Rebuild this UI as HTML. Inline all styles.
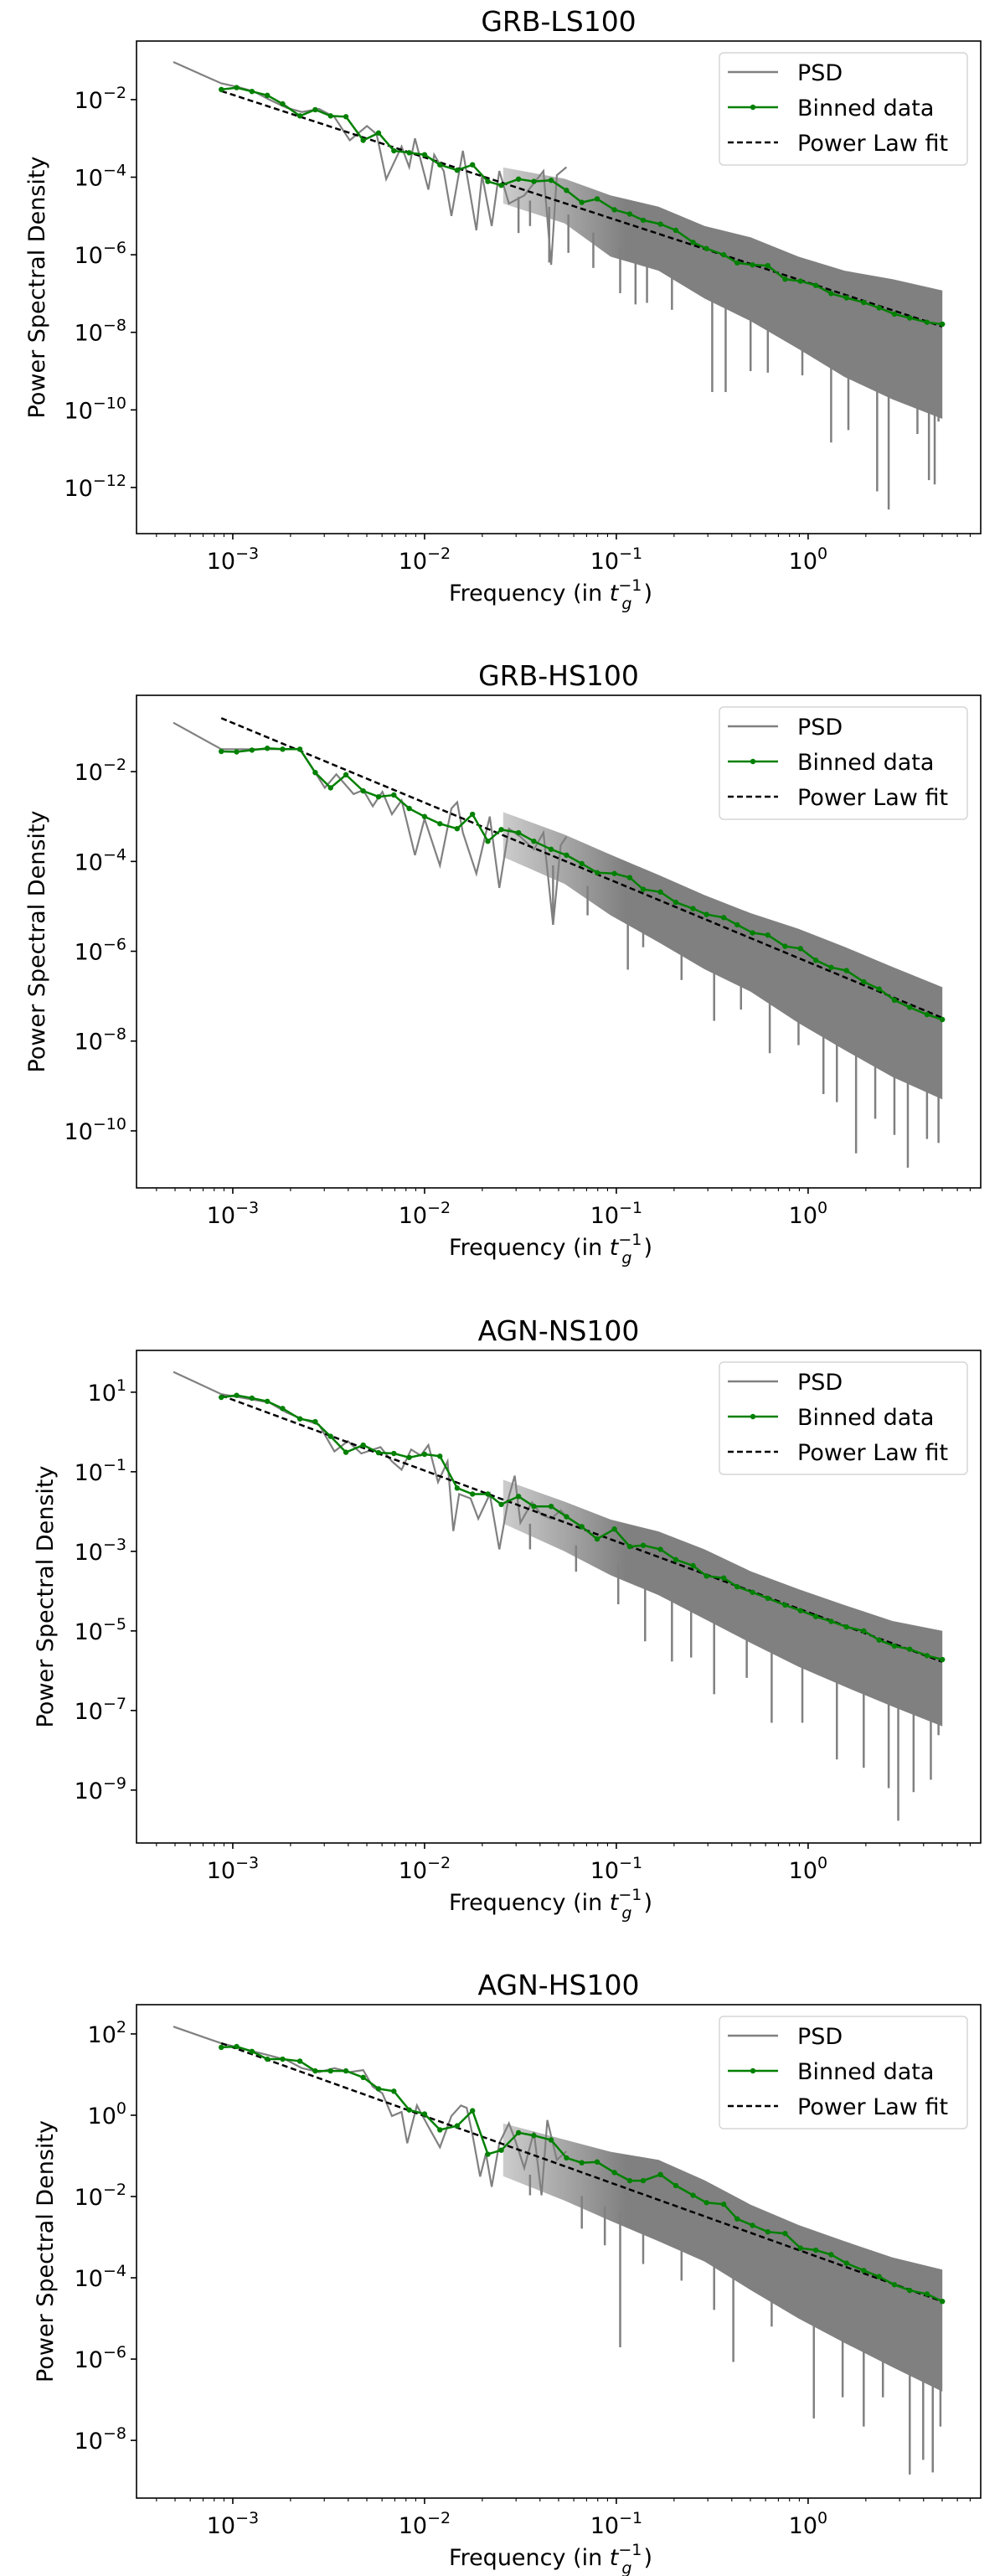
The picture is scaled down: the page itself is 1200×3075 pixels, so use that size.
<!DOCTYPE html>
<html><head><meta charset="utf-8"><title>PSD panels</title>
<style>html,body{margin:0;padding:0;background:#fff}svg{display:block}text{font-family:"DejaVu Sans","Liberation Sans",sans-serif;fill:#000}</style>
</head><body>
<svg id="fig" xmlns="http://www.w3.org/2000/svg" width="1200" height="3075" viewBox="0 0 1200 3075"></svg>
<script>
// ---------- data (log10 units) ----------
const titles = ["GRB-LS100","GRB-HS100","AGN-NS100","AGN-HS100"];
const binLogF = [-3.06,-2.98,-2.90,-2.82,-2.74,-2.65,-2.57,-2.49,-2.41,-2.32,-2.24,-2.16,-2.08,-2.00,-1.92,-1.83,-1.75,-1.67,-1.60,-1.51,-1.43,-1.34,-1.26,-1.18,-1.10,-1.01,-0.93,-0.86,-0.77,-0.69,-0.60,-0.53,-0.44,-0.37,-0.29,-0.21,-0.12,-0.04,0.04,0.12,0.20,0.29,0.37,0.45,0.53,0.62,0.70];
const bandLogF = [-1.59,-1.27,-1.03,-0.78,-0.54,-0.30,-0.05,0.19,0.44,0.70];

const p1Bin = [-1.74,-1.69,-1.79,-1.89,-2.11,-2.42,-2.26,-2.42,-2.44,-3.05,-2.86,-3.32,-3.37,-3.42,-3.68,-3.82,-3.68,-4.11,-4.21,-4.05,-4.11,-4.08,-4.34,-4.65,-4.56,-4.84,-4.95,-5.11,-5.21,-5.37,-5.68,-5.84,-6.00,-6.21,-6.26,-6.28,-6.63,-6.68,-6.79,-7.00,-7.11,-7.23,-7.37,-7.53,-7.63,-7.74,-7.79];
const p2Bin = [-1.55,-1.56,-1.52,-1.48,-1.50,-1.50,-2.02,-2.36,-2.07,-2.43,-2.56,-2.52,-2.82,-3.00,-3.16,-3.27,-2.95,-3.55,-3.29,-3.36,-3.55,-3.73,-3.86,-4.05,-4.25,-4.27,-4.36,-4.62,-4.68,-4.91,-5.05,-5.18,-5.25,-5.41,-5.59,-5.64,-5.89,-5.94,-6.20,-6.36,-6.43,-6.68,-6.84,-7.09,-7.25,-7.41,-7.52];
const p3Bin = [0.87,0.92,0.85,0.77,0.59,0.33,0.26,-0.11,-0.51,-0.33,-0.52,-0.54,-0.64,-0.56,-0.61,-1.41,-1.56,-1.56,-1.82,-1.62,-1.87,-1.87,-2.13,-2.38,-2.69,-2.44,-2.88,-2.85,-2.95,-3.21,-3.36,-3.62,-3.67,-3.89,-4.03,-4.18,-4.35,-4.49,-4.64,-4.76,-4.90,-5.00,-5.23,-5.38,-5.46,-5.62,-5.72];
const p4Bin = [1.67,1.69,1.57,1.38,1.38,1.33,1.09,1.09,1.09,0.93,0.65,0.59,0.13,0.03,-0.36,-0.26,0.11,-0.96,-0.86,-0.43,-0.50,-0.61,-1.05,-1.17,-1.15,-1.41,-1.61,-1.61,-1.46,-1.73,-1.97,-2.15,-2.19,-2.55,-2.71,-2.87,-2.91,-3.27,-3.32,-3.43,-3.64,-3.82,-3.97,-4.17,-4.31,-4.40,-4.58];

// power-law fit: log P = fitA + fitB * log f
const fitA = [-6.72,-6.24,-4.53,-3.40];
const fitB = [-1.615,-1.775,-1.78,-1.69];

const p1GrayF = [-3.31,-3.06,-2.97,-2.89,-2.81,-2.72,-2.64,-2.55,-2.47,-2.39,-2.30,-2.25,-2.20,-2.12,-2.08,-2.05,-1.98,-1.95,-1.90,-1.86,-1.80,-1.73,-1.70,-1.65,-1.61,-1.56,-1.48,-1.38,-1.34,-1.31,-1.26];
const p1GrayV = [-1.03,-1.58,-1.68,-1.79,-2.00,-2.21,-2.32,-2.24,-2.45,-3.05,-2.68,-2.89,-4.05,-3.21,-3.74,-3.00,-4.32,-3.42,-3.84,-5.00,-3.32,-5.37,-3.95,-5.26,-3.84,-4.68,-4.47,-3.84,-6.26,-3.95,-3.74];
const p2GrayF = [-3.31,-3.06,-2.74,-2.65,-2.60,-2.52,-2.46,-2.37,-2.32,-2.27,-2.22,-2.17,-2.12,-2.05,-2.00,-1.92,-1.86,-1.83,-1.80,-1.73,-1.66,-1.61,-1.56,-1.50,-1.43,-1.38,-1.33,-1.29,-1.26];
const p2GrayV = [-0.91,-1.50,-1.50,-1.50,-1.82,-2.36,-2.06,-2.50,-2.41,-2.77,-2.45,-2.95,-2.64,-3.86,-3.05,-4.09,-2.82,-2.68,-3.36,-4.27,-3.00,-4.59,-3.27,-3.45,-3.73,-3.36,-5.41,-3.64,-3.45];
const p3GrayF = [-3.31,-3.06,-2.81,-2.72,-2.64,-2.55,-2.47,-2.40,-2.33,-2.23,-2.17,-2.12,-2.07,-2.02,-1.98,-1.93,-1.88,-1.85,-1.82,-1.76,-1.72,-1.66,-1.61,-1.56,-1.53,-1.50,-1.44,-1.39,-1.34,-1.29,-1.26];
const p3GrayV = [1.51,0.95,0.74,0.49,0.33,0.18,-0.49,-0.23,-0.54,-0.38,-0.74,-0.95,-0.44,-0.59,-0.33,-1.26,-0.74,-2.49,-1.56,-1.67,-2.18,-1.56,-2.95,-1.62,-1.10,-2.28,-1.77,-2.08,-2.18,-1.97,-2.13];
const p4GrayF = [-3.31,-3.06,-2.81,-2.72,-2.64,-2.55,-2.47,-2.39,-2.32,-2.27,-2.22,-2.17,-2.12,-2.09,-2.04,-1.98,-1.92,-1.86,-1.81,-1.78,-1.75,-1.71,-1.68,-1.65,-1.61,-1.56,-1.53,-1.48,-1.43,-1.39,-1.36,-1.31,-1.26];
const p4GrayV = [2.18,1.77,1.47,1.36,1.16,1.06,1.16,1.06,1.11,0.70,0.54,-0.02,0.08,-0.69,0.24,-0.28,-0.79,-0.02,0.24,0.18,-0.48,-1.51,-0.94,-1.76,-0.69,-0.20,-0.58,-1.30,-0.41,-1.97,-0.12,-1.10,-0.89];

const p1BandHi = [-3.75,-4.04,-4.47,-4.76,-5.26,-5.55,-6.05,-6.41,-6.63,-6.92];
const p1BandLo = [-4.68,-5.19,-6.05,-6.41,-7.13,-7.71,-8.43,-9.15,-9.73,-10.23];
const p2BandHi = [-2.90,-3.40,-3.85,-4.30,-4.75,-5.15,-5.50,-5.90,-6.35,-6.80];
const p2BandLo = [-3.90,-4.50,-5.20,-5.80,-6.40,-6.90,-7.60,-8.20,-8.80,-9.30];
const p3BandHi = [-1.20,-1.75,-2.20,-2.50,-2.95,-3.50,-3.95,-4.35,-4.75,-5.00];
const p3BandLo = [-2.30,-3.00,-3.60,-4.10,-4.70,-5.30,-5.90,-6.40,-6.90,-7.40];
const p4BandHi = [-0.20,-0.60,-0.90,-1.10,-1.60,-2.20,-2.70,-3.10,-3.50,-3.80];
const p4BandLo = [-1.50,-2.10,-2.60,-3.10,-3.60,-4.30,-5.00,-5.60,-6.20,-6.80];

const p1SpikeF = [-1.51,-1.45,-1.35,-1.25,-1.12,-0.98,-0.90,-0.84,-0.71,-0.62,-0.50,-0.43,-0.30,-0.21,-0.03,0.12,0.21,0.36,0.42,0.57,0.63,0.66,0.68];
const p1SpikeV = [-5.44,-5.26,-6.20,-5.95,-6.34,-6.99,-7.28,-7.24,-7.42,-6.70,-9.54,-9.54,-9.00,-9.04,-9.11,-10.84,-10.52,-12.10,-12.57,-10.62,-11.81,-11.92,-10.30];
const p2SpikeF = [-1.33,-1.15,-0.94,-0.86,-0.66,-0.49,-0.35,-0.20,-0.05,0.08,0.15,0.25,0.35,0.45,0.52,0.62,0.68];
const p2SpikeV = [-5.41,-5.20,-6.41,-5.91,-6.64,-7.55,-7.30,-8.27,-8.09,-9.18,-9.36,-10.50,-9.73,-10.09,-10.82,-10.18,-10.27];
const p3SpikeF = [-1.45,-1.21,-0.99,-0.85,-0.71,-0.61,-0.49,-0.32,-0.19,-0.03,0.15,0.29,0.42,0.47,0.55,0.64,0.68];
const p3SpikeV = [-2.95,-3.51,-4.33,-5.26,-5.77,-5.67,-6.59,-6.18,-7.31,-7.31,-8.23,-8.44,-8.95,-9.77,-9.05,-8.74,-7.62];
const p4SpikeF = [-1.45,-1.18,-1.06,-0.98,-0.86,-0.66,-0.49,-0.39,-0.19,0.03,0.18,0.29,0.39,0.53,0.60,0.65,0.69];
const p4SpikeV = [-1.97,-2.79,-3.20,-5.71,-3.66,-4.07,-4.79,-6.07,-5.20,-7.46,-6.94,-7.66,-6.94,-8.84,-8.48,-8.79,-7.66];

const yTickExp = [[-2,-4,-6,-8,-10,-12],[-2,-4,-6,-8,-10],[1,-1,-3,-5,-7,-9],[2,0,-2,-4,-6,-8]];
const xTickExp = [-3,-2,-1,0];

// ---------- layout ----------
const NS = "http://www.w3.org/2000/svg";
const svg = document.getElementById("fig");
const L = 163, R = 1171, XMIN = -3.502, XMAX = 0.900;
const panelTop = [49, 830, 1612, 2393];
const panelBot = [637, 1418, 2200, 2982];
const yLogTop = [-0.49, -0.30, 2.05, 2.72];
const yLogBot = [-13.19, -11.27, -10.33, -9.42];
const yLabelX = [44, 44, 54, 54];

const bins = [p1Bin, p2Bin, p3Bin, p4Bin];
const grayF = [p1GrayF, p2GrayF, p3GrayF, p4GrayF];
const grayV = [p1GrayV, p2GrayV, p3GrayV, p4GrayV];
const bandHi = [p1BandHi, p2BandHi, p3BandHi, p4BandHi];
const bandLo = [p1BandLo, p2BandLo, p3BandLo, p4BandLo];
const spikeF = [p1SpikeF, p2SpikeF, p3SpikeF, p4SpikeF];
const spikeV = [p1SpikeV, p2SpikeV, p3SpikeV, p4SpikeV];

function el(tag, parent) { const e = document.createElementNS(NS, tag); parent.appendChild(e); return e; }
function xs(lf) { return L + (lf - XMIN) / (XMAX - XMIN) * (R - L); }
function interp(xa, ya, x) {
  if (x <= xa[0]) return ya[0];
  for (let i = 0; i < xa.length - 1; i++) {
    if (x <= xa[i + 1]) { const t = (x - xa[i]) / (xa[i + 1] - xa[i]); return ya[i] + t * (ya[i + 1] - ya[i]); }
  }
  return ya[ya.length - 1];
}
function supText(parent, x, y, exp, anchor) {
  const t = el("text", parent);
  t.setAttribute("x", x); t.setAttribute("y", y);
  t.setAttribute("font-size", "27"); t.setAttribute("text-anchor", anchor);
  const a = el("tspan", t); a.textContent = "10";
  const b = el("tspan", t); b.setAttribute("dy", "-12"); b.setAttribute("font-size", "19");
  b.textContent = (exp < 0 ? "\u2212" + (-exp) : String(exp));
  return t;
}

// shared gradient: the dense region fades in as the PSD gets denser
const defs = el("defs", svg);
const grad = el("linearGradient", defs);
grad.setAttribute("id", "bandGrad");
grad.setAttribute("gradientUnits", "userSpaceOnUse");
grad.setAttribute("x1", xs(bandLogF[0])); grad.setAttribute("x2", xs(-0.95));
grad.setAttribute("y1", 0); grad.setAttribute("y2", 0);
[[0, 0.4], [1, 1]].forEach(([o, a]) => {
  const s = el("stop", grad);
  s.setAttribute("offset", o); s.setAttribute("stop-color", "#808080"); s.setAttribute("stop-opacity", a);
});

for (let p = 0; p < 4; p++) {
  const T = panelTop[p], B = panelBot[p];
  const ys = v => T + (yLogTop[p] - v) / (yLogTop[p] - yLogBot[p]) * (B - T);
  const g = el("g", svg);
  
  

  const clipId = "clip" + p;
  const cp = el("clipPath", g); cp.setAttribute("id", clipId);
  const cr = el("rect", cp); cr.setAttribute("x", L); cr.setAttribute("y", T); cr.setAttribute("width", R - L); cr.setAttribute("height", B - T);

  const title = el("text", g);
  
  
  title.setAttribute("x", 667); title.setAttribute("y", T - 12);
  title.setAttribute("font-size", "33"); title.setAttribute("text-anchor", "middle");
  title.textContent = titles[p];

  const plot = el("g", g); plot.setAttribute("clip-path", "url(#" + clipId + ")");

  const psd = el("g", plot);
  
  
  const gl = el("polyline", psd);
  gl.setAttribute("points", grayF[p].map((f, i) => xs(f).toFixed(1) + "," + ys(grayV[p][i]).toFixed(1)).join(" "));
  gl.setAttribute("fill", "none"); gl.setAttribute("stroke", "#808080"); gl.setAttribute("stroke-width", "2.2");

  const band = el("polygon", psd);
  
  
  const up = bandLogF.map((f, i) => xs(f).toFixed(1) + "," + ys(bandHi[p][i]).toFixed(1));
  const lo = bandLogF.map((f, i) => xs(f).toFixed(1) + "," + ys(bandLo[p][i]).toFixed(1)).reverse();
  band.setAttribute("points", up.concat(lo).join(" "));
  band.setAttribute("fill", "url(#bandGrad)"); band.setAttribute("stroke", "none");

  spikeF[p].forEach((f, i) => {
    const s = el("line", psd);
    
    
    const top = interp(bandLogF, bandLo[p], f) + 0.3;
    s.setAttribute("x1", xs(f)); s.setAttribute("x2", xs(f));
    s.setAttribute("y1", ys(top)); s.setAttribute("y2", ys(spikeV[p][i]));
    s.setAttribute("stroke", "#808080"); s.setAttribute("stroke-width", "2.5");
  });

  const f0 = binLogF[0], f1 = binLogF[binLogF.length - 1];
  const fit = el("line", plot);
  
  
  fit.setAttribute("x1", xs(f0)); fit.setAttribute("y1", ys(fitA[p] + fitB[p] * f0));
  fit.setAttribute("x2", xs(f1)); fit.setAttribute("y2", ys(fitA[p] + fitB[p] * f1));
  fit.setAttribute("stroke", "#000"); fit.setAttribute("stroke-width", "2.5"); fit.setAttribute("stroke-dasharray", "7,4");

  const bg = el("g", plot);
  
  
  const bl = el("polyline", bg);
  bl.setAttribute("points", binLogF.map((f, i) => xs(f).toFixed(1) + "," + ys(bins[p][i]).toFixed(1)).join(" "));
  bl.setAttribute("fill", "none"); bl.setAttribute("stroke", "#008000"); bl.setAttribute("stroke-width", "2.5");
  binLogF.forEach((f, i) => {
    const c = el("circle", bg);
    
    
    c.setAttribute("cx", xs(f)); c.setAttribute("cy", ys(bins[p][i])); c.setAttribute("r", "3.2");
    c.setAttribute("fill", "#008000");
  });

  const frame = el("rect", g);
  
  
  frame.setAttribute("x", L); frame.setAttribute("y", T); frame.setAttribute("width", R - L); frame.setAttribute("height", B - T);
  frame.setAttribute("fill", "none"); frame.setAttribute("stroke", "#000"); frame.setAttribute("stroke-width", "1.6");

  const xa = el("g", g);
  
  
  for (let d = -4; d <= 0; d++) {
    for (let m = 1; m <= 9; m++) {
      const lf = d + Math.log10(m);
      if (lf < XMIN || lf > XMAX) continue;
      const tk = el("line", xa);
      tk.setAttribute("x1", xs(lf)); tk.setAttribute("x2", xs(lf));
      tk.setAttribute("y1", B); tk.setAttribute("y2", B + (m === 1 ? 7 : 4));
      tk.setAttribute("stroke", "#000"); tk.setAttribute("stroke-width", m === 1 ? "1.6" : "1.1");
    }
  }
  xTickExp.forEach(e => {
    const t = supText(xa, xs(e), B + 42, e, "middle");
    
    
  });
  const xl = el("text", xa);
  
  
  xl.setAttribute("x", 536); xl.setAttribute("y", B + 80); xl.setAttribute("font-size", "27");
  const xl1 = el("tspan", xl); xl1.textContent = "Frequency (in ";
  const xl2 = el("tspan", xl); xl2.setAttribute("font-style", "italic"); xl2.textContent = "t";
  const xl3 = el("tspan", xl); xl3.setAttribute("font-size", "19"); xl3.setAttribute("dy", "-12"); xl3.textContent = "\u22121";
  const xl4 = el("tspan", xl); xl4.setAttribute("font-size", "19"); xl4.setAttribute("font-style", "italic"); xl4.setAttribute("dx", "-24"); xl4.setAttribute("dy", "22"); xl4.textContent = "g";
  const xl5 = el("tspan", xl); xl5.setAttribute("dx", "14"); xl5.setAttribute("dy", "-10"); xl5.textContent = ")";

  const ya = el("g", g);
  
  
  yTickExp[p].forEach(e => {
    const y = ys(e);
    const tk = el("line", ya);
    tk.setAttribute("x1", L - 7); tk.setAttribute("x2", L); tk.setAttribute("y1", y); tk.setAttribute("y2", y);
    tk.setAttribute("stroke", "#000"); tk.setAttribute("stroke-width", "1.6");
    const t = supText(ya, L - 12, y + 10, e, "end");
    
    
  });
  const yl = el("text", ya);
  
  
  const cy = (T + B) / 2;
  yl.setAttribute("x", yLabelX[p]); yl.setAttribute("y", cy);
  yl.setAttribute("transform", "rotate(-90 " + yLabelX[p] + " " + cy + ")");
  yl.setAttribute("font-size", "27"); yl.setAttribute("text-anchor", "middle"); yl.setAttribute("dy", "9");
  yl.textContent = "Power Spectral Density";

  const lg = el("g", g);
  
  
  const box = el("rect", lg);
  box.setAttribute("x", 859); box.setAttribute("y", T + 14); box.setAttribute("width", 296); box.setAttribute("height", 134);
  box.setAttribute("rx", "5"); box.setAttribute("fill", "#fff"); box.setAttribute("fill-opacity", "0.8");
  box.setAttribute("stroke", "#d6d6d6"); box.setAttribute("stroke-width", "1.5");
  const labels = ["PSD", "Binned data", "Power Law fit"];
  labels.forEach((lab, i) => {
    const yy = T + 37 + i * 42;
    const ent = el("g", lg);
    
    
    const ln = el("line", ent);
    ln.setAttribute("x1", 869); ln.setAttribute("x2", 929); ln.setAttribute("y1", yy); ln.setAttribute("y2", yy);
    ln.setAttribute("stroke", i === 0 ? "#808080" : (i === 1 ? "#008000" : "#000"));
    ln.setAttribute("stroke-width", "2.5");
    if (i === 2) ln.setAttribute("stroke-dasharray", "7,4");
    if (i === 1) {
      const mk = el("circle", ent);
      mk.setAttribute("cx", 899); mk.setAttribute("cy", yy); mk.setAttribute("r", "3.2"); mk.setAttribute("fill", "#008000");
    }
    const tx = el("text", ent);
    tx.setAttribute("x", 952); tx.setAttribute("y", yy + 10); tx.setAttribute("font-size", "27");
    tx.textContent = lab;
  });
}
</script>
</body></html>
